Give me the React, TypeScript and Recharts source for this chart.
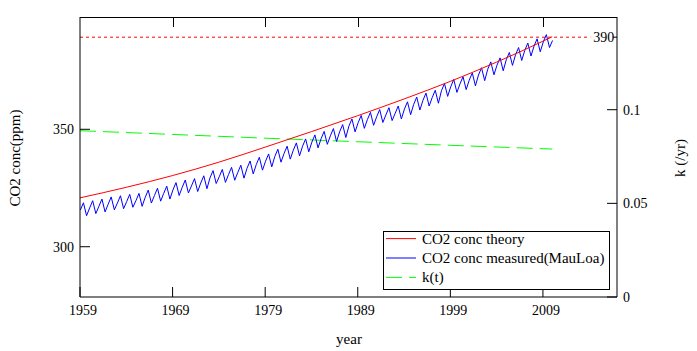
import React from 'react';
import { ComposedChart, Line, XAxis, YAxis, ReferenceLine, Legend } from 'recharts';

const FONT = '"Liberation Serif", "Times New Roman", Times, serif';

// layout
const CHART_W = 697;
const CHART_H = 351;
const MARGIN_TOP = 17;
const X_AXIS_H = 54;
const Y_AXIS_W = 80;
const PLOT_H = CHART_H - MARGIN_TOP - X_AXIS_H;
const PLOT_W = CHART_W - 2 * Y_AXIS_W;
const TICK_LEN = 10;

// axes
const xDomain = [1959, 2017];
const xTicks = [1959, 1969, 1979, 1989, 1999, 2009];
const leftDomain = [278.6, 397.8];
const leftTicks = [300, 350];
const rightDomain = [0, 0.1495];
const rightTicks = [0, 0.05, 0.1];

// CO2 concentration theory (ppm)
const theoryYears = [1959, 1964, 1969, 1974, 1979, 1984, 1989, 1994, 1999, 2004, 2009, 2010];
const theoryValues = [320.8, 325.3, 330.3, 336.0, 342.4, 349.0, 355.8, 362.9, 370.4, 378.6, 387.5, 389.4];

// k(t) (/yr)
const kYears = [1959, 1969, 1979, 1989, 1999, 2010];
const kValues = [0.0888, 0.0868, 0.0848, 0.0829, 0.081, 0.079];

// Mauna Loa measured, starting 1959: January, May (peak), September (trough)
const measuredFirstYear = 1959;
const janValues = [315.6, 316.5, 317.2, 318.1, 318.6, 319.2, 319.6, 321.0, 321.8, 322.7, 324.2, 325.3, 325.9, 327.1, 329.3, 329.8, 330.7, 331.6, 333.4, 335.0, 336.4, 338.4, 339.7, 341.1, 342.8, 344.5, 346.0, 347.2, 348.9, 351.3, 352.8, 354.1, 355.3, 356.1, 356.8, 358.6, 360.6, 362.3, 363.5, 366.4, 368.1, 369.3, 370.9, 373.1, 375.6, 377.3, 379.6, 381.7, 383.6, 385.4, 387.2, 387.8];
const mayValues = [318.7, 319.6, 320.3, 321.2, 321.7, 322.3, 322.7, 324.1, 324.9, 325.8, 327.3, 328.4, 329.0, 330.2, 332.4, 332.9, 333.8, 334.7, 336.5, 338.1, 339.5, 341.5, 342.8, 344.2, 345.9, 347.6, 349.1, 350.3, 352.0, 354.4, 355.9, 357.2, 358.4, 359.2, 359.9, 361.7, 363.7, 365.4, 366.6, 369.5, 371.2, 372.4, 374.0, 376.2, 378.7, 380.4, 382.7, 384.8, 386.7, 388.5, 390.3];
const sepValues = [313.2, 314.1, 314.8, 315.7, 316.2, 316.8, 317.2, 318.6, 319.4, 320.3, 321.8, 322.9, 323.5, 324.7, 326.9, 327.4, 328.3, 329.2, 331.0, 332.6, 334.0, 336.0, 337.3, 338.7, 340.4, 342.1, 343.6, 344.8, 346.5, 348.9, 350.4, 351.7, 352.9, 353.7, 354.4, 356.2, 358.2, 359.9, 361.1, 364.0, 365.7, 366.9, 368.5, 370.7, 373.2, 374.9, 377.2, 379.3, 381.2, 383.0, 384.8];
const monthOffsets = [0.04, 0.37, 0.71];

// marker
const markerValue = 389.2;
const markerLabel = '390';
const markerEndYear = 2014.1;
const markerTickStart = 2016.57;

const legendItems = [
  { label: 'CO2 conc theory', color: '#ff0000', dash: undefined },
  { label: 'CO2 conc measured(MauLoa)', color: '#0000ff', dash: undefined },
  { label: 'k(t)', color: '#00ff00', dash: '16 7' },
];

const theoryData = theoryYears.map((t, i) => ({ t, v: theoryValues[i] }));
const kData = kYears.map((t, i) => ({ t, v: kValues[i] }));
const measuredData: { t: number; v: number }[] = [];
mayValues.forEach((_, i) => {
  const y = measuredFirstYear + i;
  measuredData.push({ t: y + monthOffsets[0], v: janValues[i] });
  measuredData.push({ t: y + monthOffsets[1], v: mayValues[i] });
  measuredData.push({ t: y + monthOffsets[2], v: sepValues[i] });
});
measuredData.push({ t: measuredFirstYear + mayValues.length + monthOffsets[0], v: janValues[mayValues.length] });

// horizontal position of a year on the frame (same linear domain as the x axis)
const yearToFrameX = (t: number) => Y_AXIS_W + ((t - xDomain[0]) / (xDomain[1] - xDomain[0])) * PLOT_W;

const BottomTick = (p: any) => (
  <g>
    <line x1={p.x} y1={p.y} x2={p.x} y2={p.y - TICK_LEN} stroke="#000" strokeWidth={1} />
    <text x={p.x + 3} y={p.y + 18} textAnchor="middle" fontFamily={FONT} fontSize={14} fill="#000">
      {p.payload.value}
    </text>
  </g>
);
const LeftTick = (p: any) => (
  <g>
    <line x1={p.x} y1={p.y} x2={p.x + TICK_LEN} y2={p.y} stroke="#000" />
    <text x={p.x - 6} y={p.y + 5} textAnchor="end" fontFamily={FONT} fontSize={14} fill="#000">
      {p.payload.value}
    </text>
  </g>
);
const RightTick = (p: any) => (
  <g>
    <line x1={p.x} y1={p.y} x2={p.x - TICK_LEN} y2={p.y} stroke="#000" />
    <text x={p.x + 6} y={p.y + 5} textAnchor="start" fontFamily={FONT} fontSize={14} fill="#000">
      {String(p.payload.value)}
    </text>
  </g>
);

const LegendBox = () => (
  <svg width={227} height={59} style={{ display: 'block' }}>
    <rect x={0.5} y={0.5} width={226} height={58} fill="#fff" stroke="#000" />
    {legendItems.map((it, i) => {
      const cy = 7.6 + i * 19.4;
      return (
        <g key={i}>
          <line x1={3} x2={33} y1={cy} y2={cy} stroke={it.color} strokeDasharray={it.dash} />
          <text x={39} y={cy + 5} fontFamily={FONT} fontSize={15} fill="#000">
            {it.label}
          </text>
        </g>
      );
    })}
  </svg>
);

// top edge of the plot frame with its inward ticks
const TopFrame = () => (
  <div style={{ position: 'absolute', left: 0, top: 0, width: CHART_W, height: CHART_H, pointerEvents: 'none' }}>
    <div
      style={{
        position: 'absolute',
        left: Y_AXIS_W,
        top: MARGIN_TOP - 0.5,
        width: PLOT_W,
        height: 0,
        borderTop: '1px solid #000',
      }}
    />
    {xTicks.slice(1).map((t) => (
      <div
        key={t}
        style={{
          position: 'absolute',
          left: Math.round(yearToFrameX(t)),
          top: MARGIN_TOP,
          width: 0,
          height: TICK_LEN,
          borderLeft: '1px solid #000',
        }}
      />
    ))}
  </div>
);

export default function App() {
  return (
    <div style={{ position: 'absolute', left: 0, top: 0, width: CHART_W, height: CHART_H, background: '#fff' }}>
      <ComposedChart width={CHART_W} height={CHART_H} margin={{ top: MARGIN_TOP, right: 0, bottom: 0, left: 0 }}>
        <XAxis
          xAxisId="b"
          dataKey="t"
          type="number"
          domain={xDomain}
          ticks={xTicks}
          height={X_AXIS_H}
          allowDataOverflow
          axisLine={{ stroke: '#000' }}
          tickLine={false}
          tickSize={0}
          tickMargin={0}
          tick={BottomTick}
          interval={0}
          label={() => (
            <text x={349} y={344} textAnchor="middle" fontFamily={FONT} fontSize={15} fill="#000">
              year
            </text>
          )}
        />
        <YAxis
          yAxisId="left"
          type="number"
          domain={leftDomain}
          ticks={leftTicks}
          width={Y_AXIS_W}
          allowDataOverflow
          axisLine={{ stroke: '#000' }}
          tickLine={false}
          tickSize={0}
          tickMargin={0}
          tick={LeftTick}
          interval={0}
          label={() => (
            <text x={20} y={158} textAnchor="middle" transform="rotate(-90 20 158)" fontFamily={FONT} fontSize={15} fill="#000">
              CO2 conc(ppm)
            </text>
          )}
        />
        <YAxis
          yAxisId="right"
          orientation="right"
          type="number"
          domain={rightDomain}
          ticks={rightTicks}
          width={Y_AXIS_W}
          allowDataOverflow
          axisLine={{ stroke: '#000' }}
          tickLine={false}
          tickSize={0}
          tickMargin={0}
          tick={RightTick}
          interval={0}
          label={() => (
            <text x={685} y={158} textAnchor="middle" transform="rotate(-90 685 158)" fontFamily={FONT} fontSize={15} fill="#000">
              k (/yr)
            </text>
          )}
        />
        <ReferenceLine
          xAxisId="b"
          yAxisId="left"
          ifOverflow="visible"
          segment={[{ x: xDomain[0], y: markerValue }, { x: markerEndYear, y: markerValue }]}
          stroke="#ff0000"
          strokeDasharray="3 3"
          label={{ value: markerLabel, position: 'right', offset: 3, fill: '#000', fontSize: 14, fontFamily: FONT }}
        />
        <ReferenceLine
          xAxisId="b"
          yAxisId="left"
          ifOverflow="visible"
          segment={[{ x: markerTickStart, y: markerValue }, { x: xDomain[1], y: markerValue }]}
          stroke="#000"
        />
        <Line
          xAxisId="b"
          yAxisId="right"
          data={kData}
          dataKey="v"
          type="linear"
          stroke="#00ff00"
          strokeWidth={1}
          strokeDasharray="16 7"
          dot={false}
          isAnimationActive={false}
          name="k(t)"
        />
        <Line
          xAxisId="b"
          yAxisId="left"
          data={measuredData}
          dataKey="v"
          type="linear"
          stroke="#0000ff"
          strokeWidth={1}
          dot={false}
          isAnimationActive={false}
          name="CO2 conc measured(MauLoa)"
        />
        <Line
          xAxisId="b"
          yAxisId="left"
          data={theoryData}
          dataKey="v"
          type="monotone"
          stroke="#ff0000"
          strokeWidth={1}
          dot={false}
          isAnimationActive={false}
          name="CO2 conc theory"
        />
        <Legend
          layout="vertical"
          align="center"
          verticalAlign="middle"
          content={LegendBox}
          wrapperStyle={{ position: 'absolute', left: 383, top: 231, width: 227, height: 59, margin: 0, padding: 0 }}
        />
      </ComposedChart>
      <TopFrame />
    </div>
  );
}
